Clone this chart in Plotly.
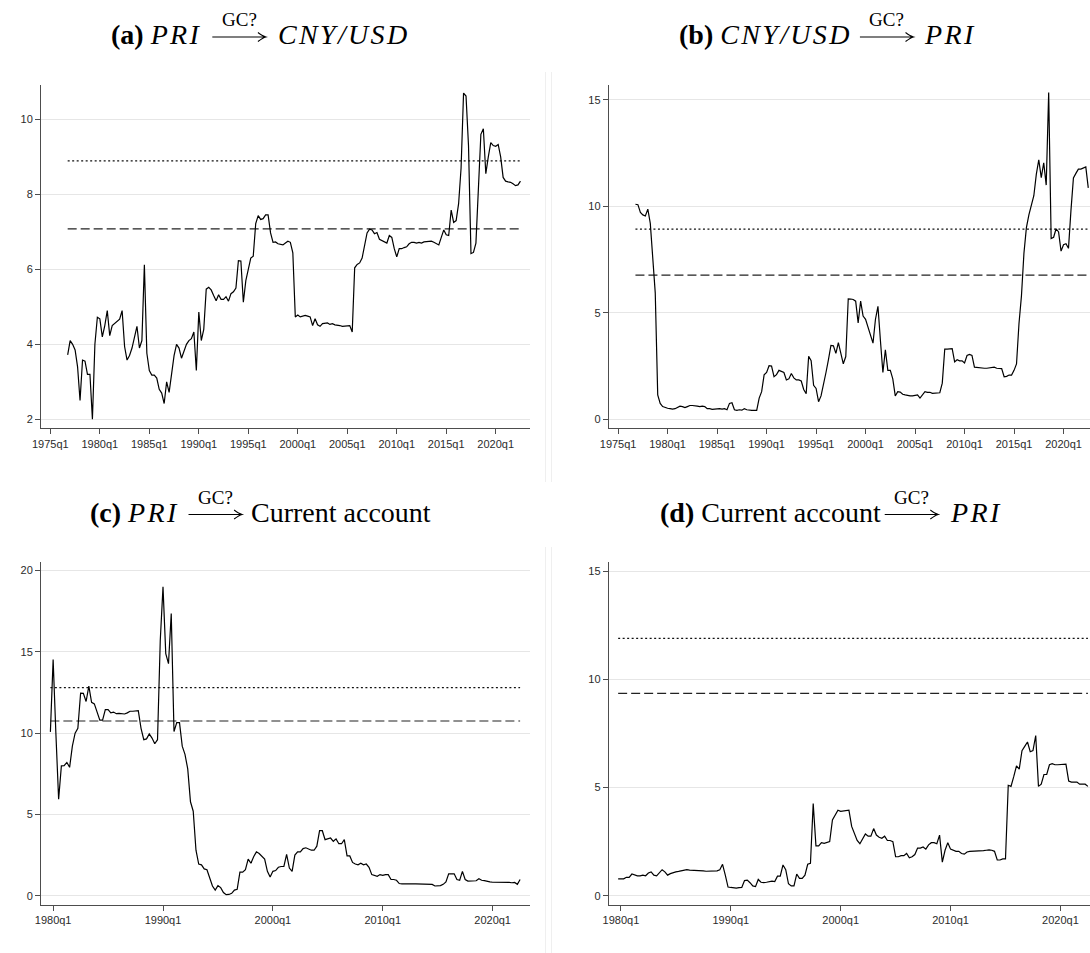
import plotly.graph_objects as go

W, H = 1090, 953

# ---------------- data ----------------
start_ab = (1976, 4)   # first quarter of panels (a), (b)
start_cd = (1979, 4)   # first quarter of panels (c), (d)

pri_to_cny = [
    3.72, 4.1, 4.0, 3.85, 3.4, 2.5, 3.58, 3.55, 3.2, 3.2,
    2.0, 4.0, 4.72, 4.68, 4.2, 4.5, 4.9, 4.23, 4.5, 4.55,
    4.62, 4.67, 4.9, 3.94, 3.58, 3.7, 3.9, 4.2, 4.48, 3.9,
    4.1, 6.12, 3.76, 3.3, 3.18, 3.18, 3.1, 2.8, 2.7, 2.42,
    3.0, 2.72, 3.2, 3.7, 4.0, 3.9, 3.63, 3.8, 4.0, 4.1,
    4.15, 4.33, 3.3, 4.86, 4.1, 4.4, 5.47, 5.52, 5.45, 5.3,
    5.16, 5.32, 5.2, 5.2, 5.27, 5.15, 5.35, 5.4, 5.5, 6.23,
    6.22, 5.12, 5.7, 6.0, 6.3, 6.35, 7.22, 7.43, 7.33, 7.35,
    7.45, 7.45, 6.97, 6.72, 6.73, 6.68, 6.67, 6.65, 6.7, 6.75,
    6.72, 6.44, 4.73, 4.78, 4.73, 4.75, 4.77, 4.75, 4.73, 4.5,
    4.68, 4.52, 4.48, 4.55, 4.56, 4.57, 4.53, 4.55, 4.52, 4.52,
    4.5, 4.48, 4.48, 4.5, 4.5, 4.33, 6.04, 6.13, 6.17, 6.3,
    6.65, 6.97, 7.07, 7.05, 6.95, 6.98, 6.8, 6.77, 6.72, 6.7,
    6.9, 6.85, 6.55, 6.33, 6.55, 6.55, 6.58, 6.6, 6.68, 6.72,
    6.72, 6.7, 6.72, 6.7, 6.73, 6.74, 6.75, 6.75, 6.72, 6.68,
    6.65, 6.85, 7.05, 6.92, 6.9, 7.58, 7.25, 7.3, 7.75, 8.7,
    10.7, 10.62, 9.3, 6.42, 6.45, 6.7, 8.2, 9.6, 9.75, 8.55,
    9.0, 9.38, 9.3, 9.28, 9.33, 9.0, 8.45, 8.35, 8.33, 8.32,
    8.28, 8.23, 8.25, 8.35,
]

cny_to_pri = [
    10.1, 10.08, 9.72, 9.6, 9.55, 9.87, 9.2, 7.5, 5.94, 1.15,
    0.75, 0.6, 0.55, 0.52, 0.5, 0.48, 0.5, 0.55, 0.62, 0.6,
    0.55, 0.6, 0.65, 0.65, 0.62, 0.62, 0.6, 0.62, 0.6, 0.5,
    0.5, 0.47, 0.48, 0.5, 0.5, 0.48, 0.5, 0.45, 0.75, 0.78,
    0.45, 0.42, 0.45, 0.43, 0.5, 0.45, 0.42, 0.42, 0.42, 0.42,
    1.0, 1.3, 2.09, 2.2, 2.52, 2.5, 2.0, 2.1, 2.3, 2.25,
    2.2, 1.85, 1.9, 2.15, 1.95, 1.85, 1.85, 1.8, 1.4, 1.2,
    2.96, 2.75, 1.6, 1.45, 0.83, 1.1, 1.6, 2.2, 2.8, 3.47,
    3.45, 3.1, 3.6, 3.1, 2.61, 2.95, 5.66, 5.65, 5.63, 5.55,
    4.53, 5.55, 4.85, 4.7, 4.35, 3.95, 3.58, 4.7, 5.31, 3.7,
    2.2, 3.27, 2.3, 2.3, 1.9, 1.1, 1.3, 1.28, 1.18, 1.15,
    1.12, 1.1, 1.1, 1.12, 1.15, 1.0, 1.15, 1.3, 1.27, 1.27,
    1.22, 1.23, 1.23, 1.25, 1.7, 3.3, 3.3, 3.32, 3.32, 2.7,
    2.8, 2.75, 2.75, 2.65, 3.0, 3.05, 3.0, 2.45, 2.43, 2.43,
    2.4, 2.4, 2.4, 2.42, 2.42, 2.45, 2.4, 2.38, 2.38, 2.0,
    2.02, 2.08, 2.08, 2.3, 2.6, 4.5, 5.8, 7.8, 9.0, 9.6,
    10.0, 10.5, 11.5, 12.19, 11.35, 12.05, 11.0, 15.35, 8.49, 8.55,
    8.95, 8.8, 7.9, 8.2, 8.25, 8.03, 9.8, 11.34, 11.55, 11.75,
    11.75, 11.8, 11.85, 10.87,
]

pri_to_ca = [
    10.08, 14.53, 10.0, 5.94, 7.99, 8.0, 8.2, 7.9, 9.2, 10.0,
    10.3, 12.46, 12.45, 11.95, 12.89, 11.9, 11.8, 11.3, 10.8, 10.8,
    11.45, 11.45, 11.25, 11.3, 11.2, 11.22, 11.2, 11.18, 11.25, 11.35,
    11.35, 11.38, 11.38, 10.3, 9.6, 9.65, 9.95, 9.7, 9.35, 9.6,
    15.7, 19.0, 14.9, 14.28, 17.36, 10.1, 10.65, 10.65, 9.2, 8.7,
    7.8, 5.78, 5.2, 2.8, 1.95, 1.9, 1.65, 1.6, 1.1, 0.6,
    0.35, 0.62, 0.5, 0.2, 0.07, 0.08, 0.15, 0.35, 0.4, 1.45,
    1.45, 1.6, 2.25, 2.0, 2.4, 2.7, 2.6, 2.45, 2.25, 1.5,
    1.15, 1.5, 1.55, 1.75, 1.8, 1.8, 2.55, 1.7, 1.5, 2.5,
    2.7, 2.7, 2.9, 2.95, 2.85, 2.8, 2.8, 3.05, 4.0, 4.0,
    3.45, 3.5, 3.55, 3.35, 3.5, 3.2, 3.2, 3.45, 2.45, 2.45,
    2.05, 1.95, 1.9, 2.0, 1.9, 1.95, 1.75, 1.3, 1.25, 1.2,
    1.3, 1.25, 1.3, 1.3, 1.0, 1.0, 0.95, 0.75, 0.73, 0.72,
    0.72, 0.72, 0.73, 0.73, 0.73, 0.74, 0.73, 0.74, 0.72, 0.7,
    0.6, 0.6, 0.62, 0.7, 0.85, 1.35, 1.35, 1.35, 1.0, 0.95,
    1.5, 1.0, 0.9, 0.92, 0.9, 0.92, 1.05, 0.95, 0.93, 0.88,
    0.85, 0.83, 0.83, 0.85, 0.83, 0.85, 0.83, 0.82, 0.8, 0.82,
    0.7, 1.0,
]

ca_to_pri = [
    0.78, 0.78, 0.78, 0.85, 0.85, 1.0, 0.95, 0.92, 0.92, 0.95,
    0.92, 1.05, 1.1, 0.95, 0.92, 1.05, 1.2, 1.1, 0.95, 1.02,
    1.07, 1.1, 1.12, 1.15, 1.17, 1.2, 1.18, 1.18, 1.17, 1.17,
    1.16, 1.15, 1.13, 1.13, 1.15, 1.15, 1.15, 1.2, 1.45, 0.95,
    0.4, 0.38, 0.35, 0.35, 0.37, 0.38, 0.7, 0.72, 0.6, 0.45,
    0.42, 0.75, 0.62, 0.6, 0.62, 0.65, 0.67, 0.65, 0.9, 0.9,
    1.42, 1.2, 0.55, 0.45, 0.45, 1.0, 0.8, 0.8, 0.95, 1.45,
    1.5, 4.26, 2.3, 2.3, 2.45, 2.42, 2.45, 2.5, 3.5, 3.75,
    3.95, 3.9, 3.92, 3.95, 3.95, 3.2, 2.85, 2.55, 2.4, 2.6,
    2.85, 2.75, 2.75, 3.1, 2.8, 2.7, 2.65, 2.75, 2.55, 2.55,
    2.5, 1.8, 1.8, 1.85, 1.85, 1.95, 1.75, 1.8, 1.9, 2.2,
    2.2, 2.25, 2.15, 2.35, 2.45, 2.45, 2.4, 2.8, 1.55, 2.1,
    2.45, 2.15, 2.1, 2.05, 2.05, 1.95, 1.92, 2.02, 2.05, 2.05,
    2.05, 2.05, 2.05, 2.08, 2.1, 2.12, 2.1, 2.05, 1.65, 1.65,
    1.7, 1.7, 5.1, 5.05, 5.5, 6.0, 5.85, 6.7, 6.9, 7.1,
    6.65, 6.7, 7.4, 5.05, 5.15, 5.6, 5.6, 6.05, 6.1, 6.05,
    6.05, 6.05, 6.05, 6.08, 5.3, 5.25, 5.25, 5.25, 5.15, 5.15,
    5.15, 5.05,
]

# critical values: dotted (upper) and dashed (lower) reference lines
dotted_vals = [8.89, 8.93, 12.8, 11.89]
dashed_vals = [7.08, 6.77, 10.75, 9.35]

ticks_ab = [1975, 1980, 1985, 1990, 1995, 2000, 2005, 2010, 2015, 2020]
ticklabels_ab = ["1975q1", "1980q1", "1985q1", "1990q1", "1995q1",
                 "2000q1", "2005q1", "2010q1", "2015q1", "2020q1"]
ticks_cd = [1980, 1990, 2000, 2010, 2020]
ticklabels_cd = ["1980q1", "1990q1", "2000q1", "2010q1", "2020q1"]
yticks_a = [2, 4, 6, 8, 10]
yticks_b = [0, 5, 10, 15]
yticks_c = [0, 5, 10, 15, 20]
yticks_d = [0, 5, 10, 15]


def quarters(start, n):
    y, q = start
    out = []
    for k in range(n):
        qq = q - 1 + k
        out.append(y + qq // 4 + (qq % 4) / 4.0)
    return out


def px(x):
    return x / W


def py(y):
    return 1 - y / H


fig = go.Figure()

panels = [
    dict(vals=pri_to_cny, start=start_ab, ax="", ticks=ticks_ab, labels=ticklabels_ab,
         yt=yticks_a, xdom=(32.3, 525), ydom=(85, 428.3),
         xr=(1974.058, 2023.43), yr=(1.76, 10.915)),
    dict(vals=cny_to_pri, start=start_ab, ax="2", ticks=ticks_ab, labels=ticklabels_ab,
         yt=yticks_b, xdom=(604.8, 1090), ydom=(85, 428.3),
         xr=(1974.058, 2022.675), yr=(-0.42, 15.70)),
    dict(vals=pri_to_ca, start=start_cd, ax="3", ticks=ticks_cd, labels=ticklabels_cd,
         yt=yticks_c, xdom=(32.3, 525), ydom=(561.7, 905),
         xr=(1978.899, 2023.37), yr=(-0.57, 20.55)),
    dict(vals=ca_to_pri, start=start_cd, ax="4", ticks=ticks_cd, labels=ticklabels_cd,
         yt=yticks_d, xdom=(604.8, 1090), ydom=(561.7, 905),
         xr=(1978.899, 2022.69), yr=(-0.43, 15.43)),
]

axcol = "#4d4d4d"
tickfont = dict(family="Liberation Sans, Arial, sans-serif", size=11, color="#2b2b2b")

for i, p in enumerate(panels):
    xs = quarters(p["start"], len(p["vals"]))
    xa, ya = "x" + p["ax"], "y" + p["ax"]
    fig.add_trace(go.Scatter(x=[xs[0], xs[-1]], y=[dotted_vals[i]] * 2, mode="lines",
                             line=dict(color="#111111", width=1.2, dash="2px,2.5px"),
                             xaxis=xa, yaxis=ya, showlegend=False, hoverinfo="skip"))
    fig.add_trace(go.Scatter(x=[xs[0], xs[-1]], y=[dashed_vals[i]] * 2, mode="lines",
                             line=dict(color="#222222", width=1.2, dash="9px,4px"),
                             xaxis=xa, yaxis=ya, showlegend=False, hoverinfo="skip"))
    fig.add_trace(go.Scatter(x=xs, y=p["vals"], mode="lines",
                             line=dict(color="#000000", width=1.2),
                             xaxis=xa, yaxis=ya, showlegend=False))
    xkey = "xaxis" + p["ax"]
    ykey = "yaxis" + p["ax"]
    fig.layout[xkey] = dict(
        domain=[px(p["xdom"][0]), px(p["xdom"][1])], range=list(p["xr"]),
        anchor=ya, showgrid=False, zeroline=False, showline=True,
        linecolor=axcol, linewidth=1, ticks="outside", ticklen=5, tickcolor=axcol,
        tickwidth=1, tickvals=p["ticks"], ticktext=p["labels"], tickfont=tickfont,
        fixedrange=True)
    fig.layout[ykey] = dict(
        domain=[py(p["ydom"][1]), py(p["ydom"][0])], range=list(p["yr"]),
        anchor=xa, showgrid=True, gridcolor="#e6e6e6", gridwidth=1, zeroline=False,
        showline=True, linecolor=axcol, linewidth=1, ticks="outside", ticklen=5,
        tickcolor=axcol, tickwidth=1, tickvals=p["yt"], tickfont=tickfont,
        fixedrange=True)

# ---------------- titles ----------------
serif = "Liberation Serif, Times New Roman, serif"
hs = "\u200a"
titles = [
    dict(left="<b>(a)</b> <i>P%sR%sI</i>" % (hs, hs), lx=196, a0=205, a1=259,
         right="<i>%s</i>" % hs.join("CNY/USD"), rx=269, base=44),
    dict(left="<b>(b)</b> <i>%s</i>" % hs.join("CNY/USD"), lx=849, a0=858, a1=912,
         right="<i>P%sR%sI</i>" % (hs, hs), rx=921, base=44),
    dict(left="<b>(c)</b> <i>P%sR%sI</i>" % (hs, hs), lx=172, a0=181, a1=235,
         right="Current account", rx=242, base=521.5),
    dict(left="<b>(d)</b> Current account", lx=881, a0=883, a1=937,
         right="<i>P%sR%sI</i>" % (hs, hs), rx=947, base=521.5),
]

annotations = []
shapes = []
for t in titles:
    mid = t["base"] - 9.5
    annotations.append(dict(text=t["left"], x=px(t["lx"]), y=py(mid), xref="paper", yref="paper",
                            xanchor="right", yanchor="middle", showarrow=False,
                            font=dict(family=serif, size=28, color="#000000")))
    annotations.append(dict(text=t["right"], x=px(t["rx"]), y=py(mid), xref="paper", yref="paper",
                            xanchor="left", yanchor="middle", showarrow=False,
                            font=dict(family=serif, size=28, color="#000000")))
    annotations.append(dict(text="GC?", x=px((t["a0"] + t["a1"]) / 2), y=py(t["base"] - 24),
                            xref="paper", yref="paper", xanchor="center", yanchor="middle",
                            showarrow=False, font=dict(family=serif, size=19, color="#000000")))
    ay = t["base"] - 7
    x0, x1 = t["a0"], t["a1"]
    path = ("M %f,%f L %f,%f M %f,%f Q %f,%f %f,%f Q %f,%f %f,%f" % (
        px(x0), py(ay), px(x1), py(ay),
        px(x1 - 8), py(ay - 4.5), px(x1 - 3), py(ay - 0.8), px(x1), py(ay),
        px(x1 - 3), py(ay + 0.8), px(x1 - 8), py(ay + 4.5)))
    shapes.append(dict(type="path", path=path, xref="paper", yref="paper",
                       line=dict(color="#000000", width=1.1)))

# faint graph-region borders
for (x, y0, y1) in [(541, 72, 482), (547, 72, 482), (541, 547, 953), (547, 547, 953)]:
    shapes.append(dict(type="line", x0=px(x), x1=px(x), y0=py(y0), y1=py(y1),
                       xref="paper", yref="paper", line=dict(color="#efefef", width=1)))

fig.update_layout(
    width=W, height=H, margin=dict(l=0, r=0, t=0, b=0),
    paper_bgcolor="white", plot_bgcolor="white",
    annotations=annotations, shapes=shapes, showlegend=False,
)

fig.write_html("out.html", config={"displayModeBar": False},
               post_script="document.body.style.margin='0';")
